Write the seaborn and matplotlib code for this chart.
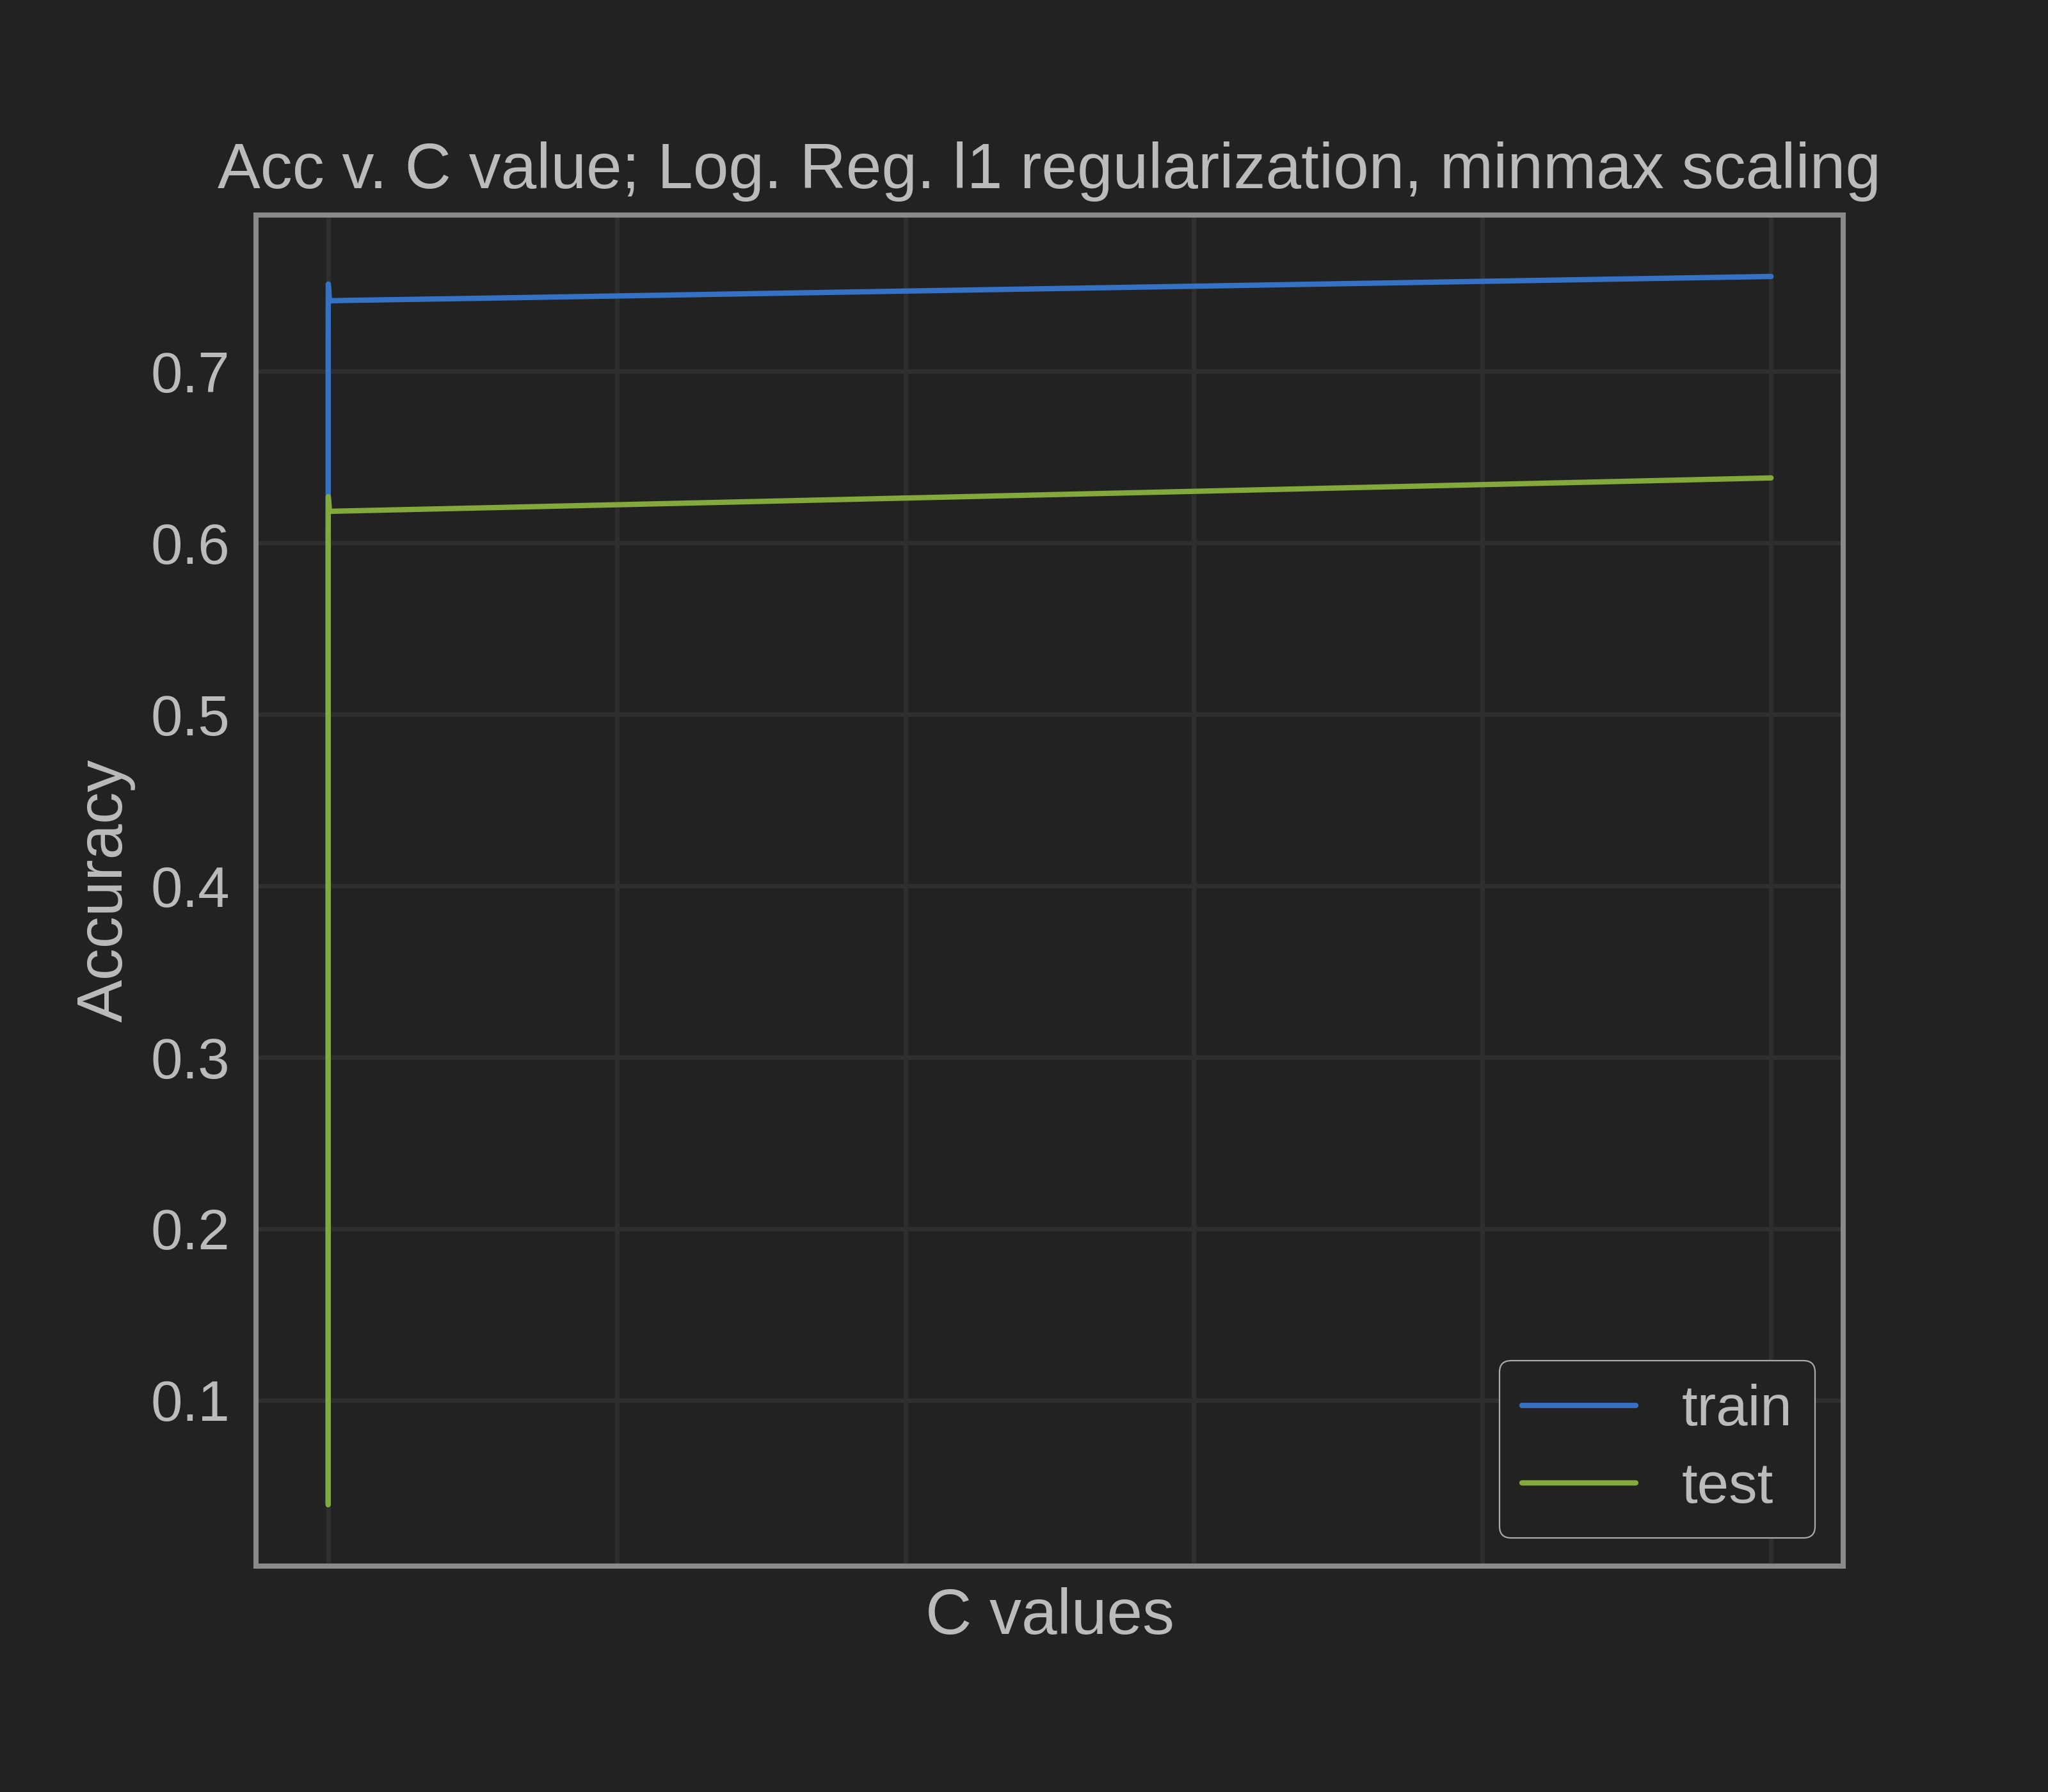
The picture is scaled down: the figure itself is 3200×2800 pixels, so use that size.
import matplotlib
matplotlib.use("Agg")
import matplotlib.pyplot as plt
import seaborn as sns
import pandas as pd

# ---- data ----
c_values = [0.0001, 0.001, 0.01, 0.1, 1, 10, 100, 1000]
train_acc = [0.040, 0.040, 0.717, 0.751, 0.7412, 0.7414, 0.7426, 0.7554]
test_acc = [0.039, 0.575, 0.603, 0.627, 0.6184, 0.6186, 0.6203, 0.6379]
series_names = ["train", "test"]
series_colors = ["#3572C6", "#83A83B"]
x_ticks = [0, 200, 400, 600, 800, 1000]
y_ticks = [0.1, 0.2, 0.3, 0.4, 0.5, 0.6, 0.7]

BG = "#222222"
TXT = "#BBBBBB"
GRID = "#2E2E2E"
SPINE = "#8A8A8A"

sns.set_theme(style="darkgrid", rc={
    "figure.facecolor": BG,
    "axes.facecolor": BG,
    "axes.edgecolor": SPINE,
    "axes.linewidth": 1.45,
    "grid.color": GRID,
    "grid.linewidth": 1.3,
    "text.color": TXT,
    "axes.labelcolor": TXT,
    "xtick.color": TXT,
    "ytick.color": TXT,
})
plt.rcParams["font.family"] = ["Liberation Sans", "DejaVu Sans"]

df = pd.DataFrame({
    "C": c_values * 2,
    "Accuracy": train_acc + test_acc,
    "set": [series_names[0]] * len(c_values) + [series_names[1]] * len(c_values),
})

fig, ax = plt.subplots(figsize=(8, 7), dpi=400)
fig.subplots_adjust(left=0.125, right=0.9, top=0.88, bottom=0.126)

sns.lineplot(data=df, x="C", y="Accuracy", hue="set", hue_order=series_names,
             palette=series_colors, sort=False, estimator=None, linewidth=1.5, ax=ax)

ax.set_xticks(x_ticks)
ax.set_xticklabels([])
ax.set_yticks(y_ticks)
ax.set_yticklabels([f"{v:.1f}" for v in y_ticks])
ax.tick_params(axis="both", length=0, labelsize=16, pad=7.4)
for s in ax.spines.values():
    s.set_visible(True)
    s.set_color(SPINE)
    s.set_linewidth(1.45)

ax.set_title("Acc v. C value; Log. Reg. l1 regularization, minmax scaling",
             fontsize=18, color=TXT, pad=7.5)
ax.set_xlabel("C values", fontsize=18, color=TXT, labelpad=-1.5)
ax.set_ylabel("Accuracy", fontsize=18, color=TXT, labelpad=4.2)

leg = ax.legend(loc="lower right", fontsize=16, frameon=True, facecolor=BG,
                edgecolor="#AAAAAA", framealpha=1.0, labelspacing=0.42,
                borderaxespad=0.5)
leg.get_frame().set_linewidth(0.4)
for t in leg.get_texts():
    t.set_color(TXT)
for line in leg.get_lines():
    line.set_linewidth(1.5)

fig.savefig("out.png", dpi=400, facecolor=BG)
